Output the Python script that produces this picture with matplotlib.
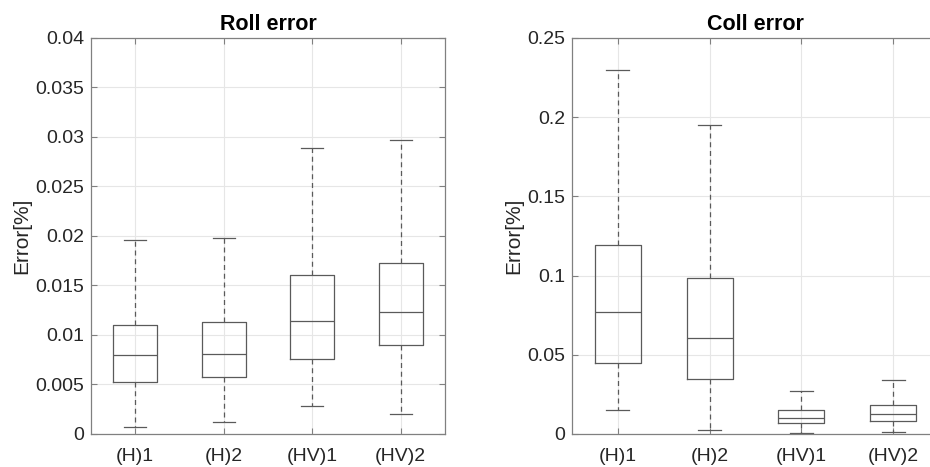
import matplotlib
matplotlib.use("Agg")
import matplotlib.pyplot as plt

plt.rcParams['font.family'] = ['Liberation Sans', 'DejaVu Sans']

groups = ['(H)1', '(H)2', '(HV)1', '(HV)2']

# box statistics: lower whisker, q1, median, q3, upper whisker
roll_lo = [0.0007, 0.0012, 0.0028, 0.0020]
roll_q1 = [0.0053, 0.0058, 0.0076, 0.0090]
roll_med = [0.0080, 0.0081, 0.0114, 0.0123]
roll_q3 = [0.0110, 0.0113, 0.0161, 0.0173]
roll_hi = [0.0196, 0.0198, 0.0289, 0.0297]

coll_lo = [0.0153, 0.0025, 0.0008, 0.0015]
coll_q1 = [0.0448, 0.0345, 0.0069, 0.0080]
coll_med = [0.0770, 0.0604, 0.0099, 0.0126]
coll_q3 = [0.1191, 0.0987, 0.0150, 0.0185]
coll_hi = [0.2300, 0.1949, 0.0270, 0.0339]

roll_ticks = [0, 0.005, 0.01, 0.015, 0.02, 0.025, 0.03, 0.035, 0.04]
roll_ticklabels = ['0', '0.005', '0.01', '0.015', '0.02', '0.025', '0.03', '0.035', '0.04']
coll_ticks = [0, 0.05, 0.1, 0.15, 0.2, 0.25]
coll_ticklabels = ['0', '0.05', '0.1', '0.15', '0.2', '0.25']

line_col = '#5a5a5a'


def make_stats(lo, q1, med, q3, hi):
    out = []
    for i in range(len(groups)):
        out.append({'whislo': lo[i], 'q1': q1[i], 'med': med[i], 'q3': q3[i],
                    'whishi': hi[i], 'fliers': [], 'label': groups[i]})
    return out


def draw(ax, stats, title, ticks, ticklabels, top):
    ax.bxp(stats, positions=[1, 2, 3, 4], widths=0.5, showfliers=False,
           boxprops=dict(color=line_col, linewidth=0.9),
           medianprops=dict(color=line_col, linewidth=0.9),
           whiskerprops=dict(color=line_col, linewidth=0.9, linestyle=(0, (4, 3))),
           capprops=dict(color=line_col, linewidth=0.9),
           capwidths=0.25)
    ax.set_xlim(0.5, 4.5)
    ax.set_ylim(0, top)
    ax.set_yticks(ticks)
    ax.set_yticklabels(ticklabels)
    ax.set_xticks([1, 2, 3, 4])
    ax.set_xticklabels(groups)
    ax.grid(True, color='#e6e6e6', linewidth=0.8)
    ax.set_axisbelow(True)
    for s in ax.spines.values():
        s.set_color('#808080')
        s.set_linewidth(0.9)
    ax.tick_params(direction='in', top=True, right=True, length=4,
                   color='#808080', labelsize=14, labelcolor='#262626')
    ax.tick_params(axis='x', pad=10)
    ax.tick_params(axis='y', pad=5)
    ax.set_title(title, fontsize=15.5, fontweight='bold', pad=6)
    ax.set_ylabel('Error[%]', fontsize=15, color='#262626', labelpad=3)


fig = plt.figure(figsize=(9.3, 4.67), dpi=100)
ax1 = fig.add_axes([0.0978, 0.0707, 0.3806, 0.848])
ax2 = fig.add_axes([0.615, 0.0707, 0.3946, 0.848])

draw(ax1, make_stats(roll_lo, roll_q1, roll_med, roll_q3, roll_hi),
     'Roll error', roll_ticks, roll_ticklabels, 0.04)
draw(ax2, make_stats(coll_lo, coll_q1, coll_med, coll_q3, coll_hi),
     'Coll error', coll_ticks, coll_ticklabels, 0.25)

fig.savefig('out.png', dpi=100)
